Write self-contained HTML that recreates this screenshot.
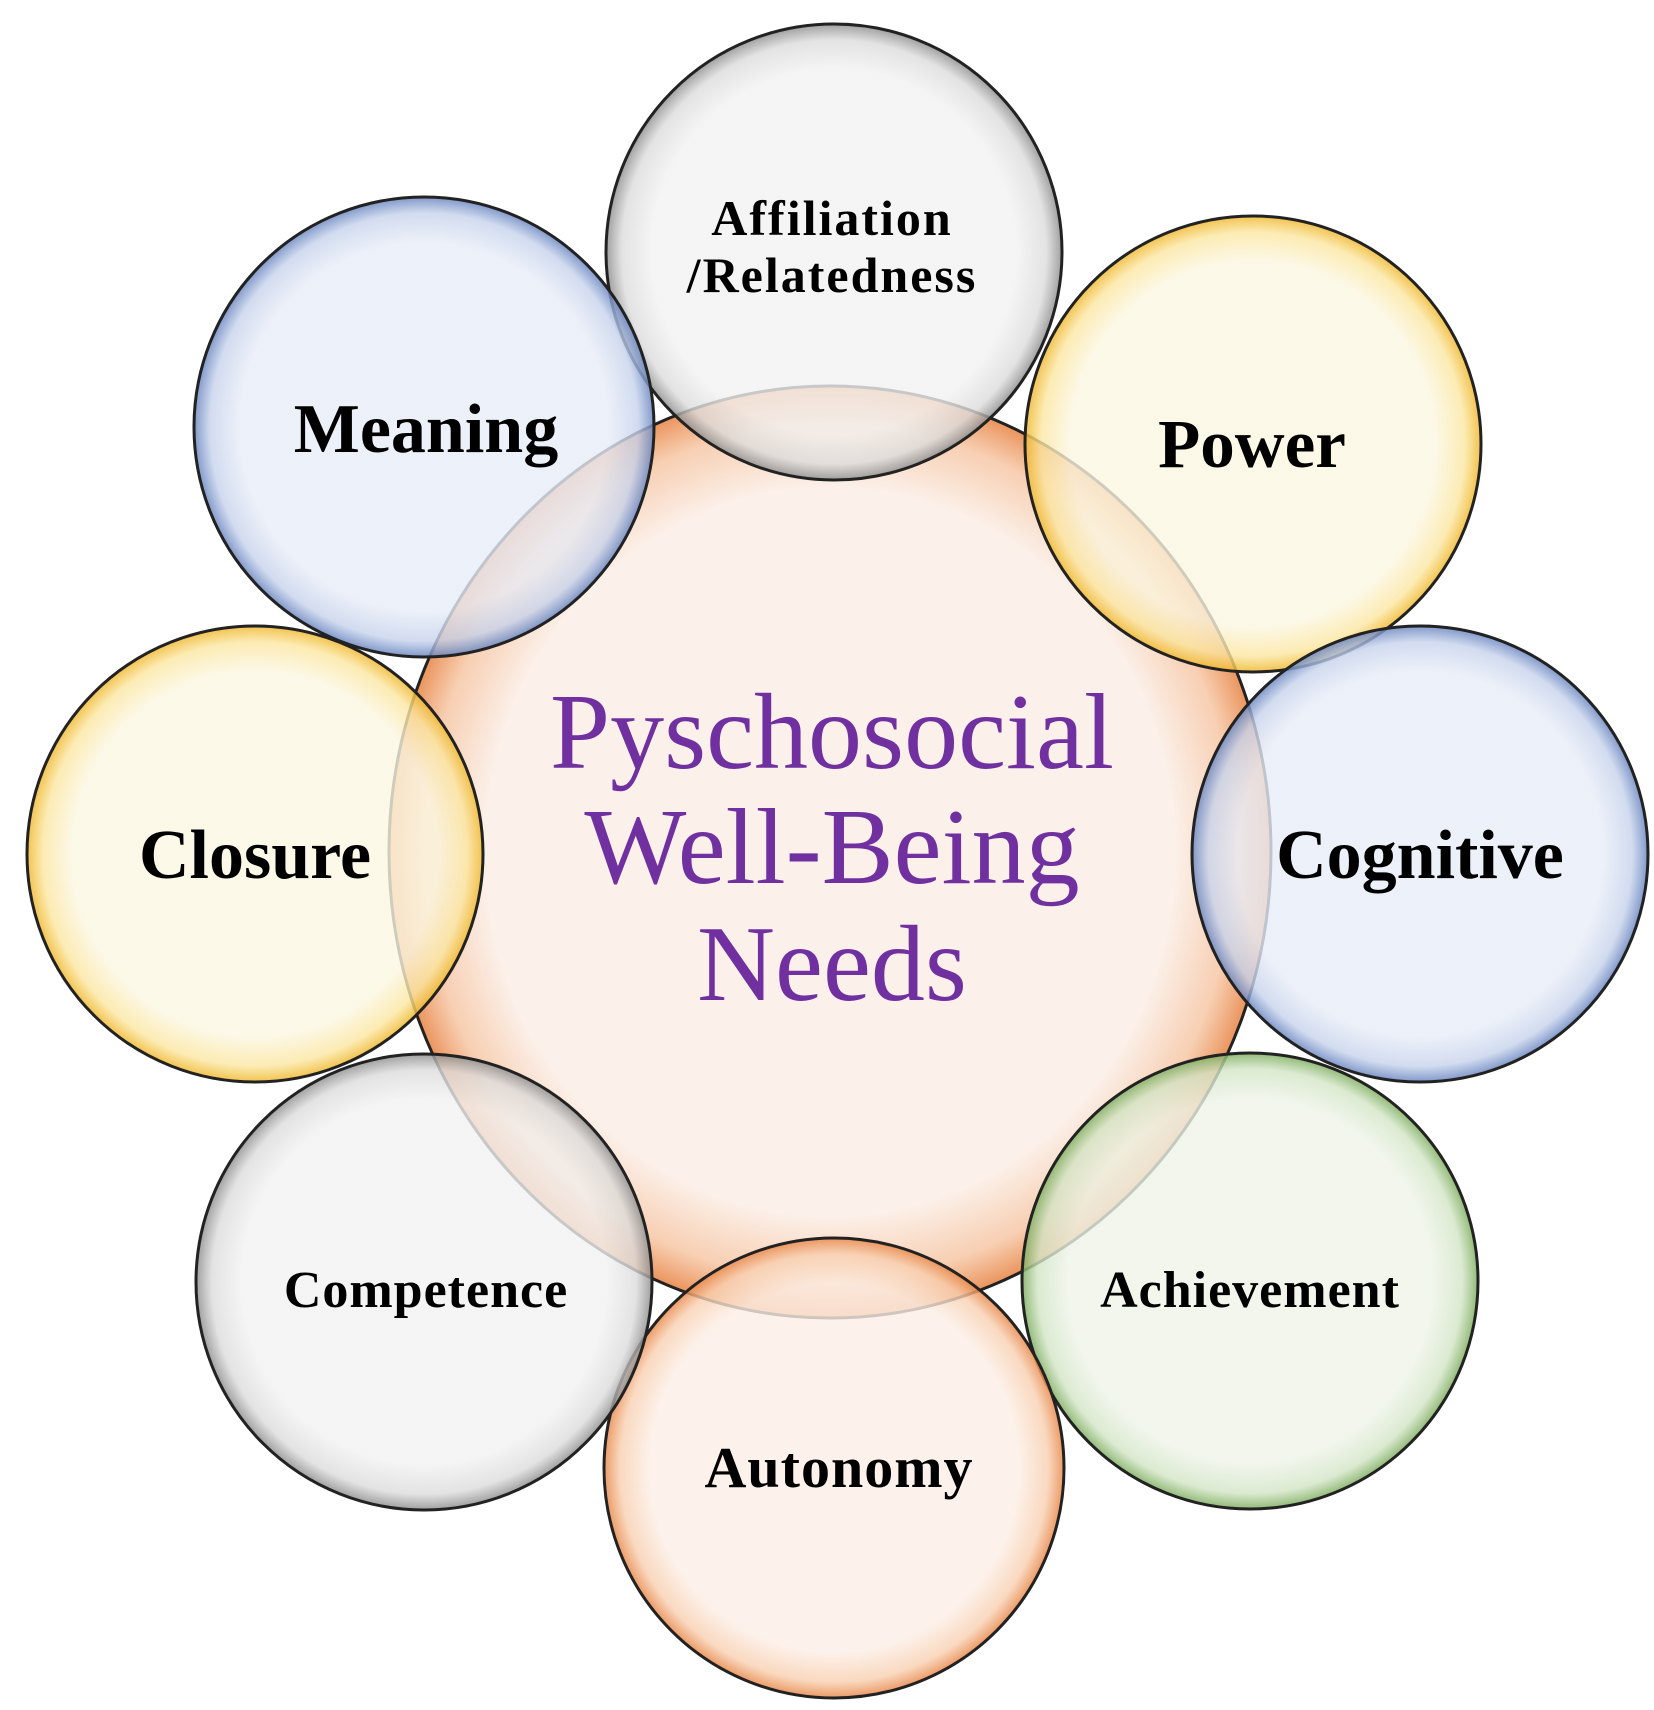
<!DOCTYPE html>
<html><head><meta charset="utf-8"><style>
html,body{margin:0;padding:0;background:#fff;}
svg{display:block;}
text{font-family:"Liberation Serif",serif;}
.l{font-weight:bold;fill:#000;text-anchor:middle;}
</style></head><body>
<svg width="1654" height="1710" viewBox="0 0 1654 1710" xmlns="http://www.w3.org/2000/svg">
<defs>
<radialGradient id="go" cx="50%" cy="50%" r="50%"><stop offset="0.78" stop-color="#fbeee6" stop-opacity="0.85"/><stop offset="0.92" stop-color="#f6c6a4" stop-opacity="0.85"/><stop offset="1" stop-color="#e8884a" stop-opacity="0.9"/></radialGradient>
<radialGradient id="gg" cx="50%" cy="50%" r="50%"><stop offset="0.8" stop-color="#f2f2f2" stop-opacity="0.8"/><stop offset="0.93" stop-color="#dcdcdc" stop-opacity="0.8"/><stop offset="1" stop-color="#8f8f8f" stop-opacity="0.85"/></radialGradient>
<radialGradient id="gy" cx="50%" cy="50%" r="50%"><stop offset="0.8" stop-color="#fbf7e2" stop-opacity="0.8"/><stop offset="0.93" stop-color="#fbe6a0" stop-opacity="0.8"/><stop offset="1" stop-color="#f0b830" stop-opacity="0.85"/></radialGradient>
<radialGradient id="gb" cx="50%" cy="50%" r="50%"><stop offset="0.8" stop-color="#e8edf7" stop-opacity="0.8"/><stop offset="0.93" stop-color="#c7d3ec" stop-opacity="0.8"/><stop offset="1" stop-color="#6a86c0" stop-opacity="0.85"/></radialGradient>
<radialGradient id="gn" cx="50%" cy="50%" r="50%"><stop offset="0.8" stop-color="#eef4e8" stop-opacity="0.8"/><stop offset="0.93" stop-color="#d3e5c6" stop-opacity="0.8"/><stop offset="1" stop-color="#7eae60" stop-opacity="0.85"/></radialGradient>
<radialGradient id="ga" cx="50%" cy="50%" r="50%"><stop offset="0.8" stop-color="#fcefe6" stop-opacity="0.8"/><stop offset="0.93" stop-color="#f8cfb0" stop-opacity="0.8"/><stop offset="1" stop-color="#e8884a" stop-opacity="0.85"/></radialGradient>
</defs>
<g stroke="#222" stroke-width="3">
<ellipse cx="830" cy="852" rx="441" ry="466" fill="url(#go)"/>
<circle cx="834" cy="252" r="228" fill="url(#gg)"/>
<circle cx="1253" cy="444" r="228" fill="url(#gy)"/>
<circle cx="1420" cy="854" r="228" fill="url(#gb)"/>
<circle cx="1250" cy="1281" r="228" fill="url(#gn)"/>
<circle cx="834" cy="1468" r="230" fill="url(#ga)"/>
<circle cx="424" cy="1282" r="228" fill="url(#gg)"/>
<circle cx="255" cy="854" r="228" fill="url(#gy)"/>
<circle cx="424" cy="427" r="230" fill="url(#gb)"/>
</g>
<text class="l" x="832" y="235" font-size="50" letter-spacing="2">Affiliation</text>
<text class="l" x="832" y="292" font-size="50" letter-spacing="2">/Relatedness</text>
<text class="l" x="426" y="452" font-size="70">Meaning</text>
<text class="l" x="1252" y="467" font-size="69">Power</text>
<text class="l" x="255" y="878" font-size="70">Closure</text>
<text class="l" x="1420" y="878" font-size="70">Cognitive</text>
<text class="l" x="426" y="1307" font-size="52" letter-spacing="1">Competence</text>
<text class="l" x="1250" y="1307" font-size="52" letter-spacing="1">Achievement</text>
<text class="l" x="839" y="1487" font-size="58" letter-spacing="1">Autonomy</text>
<g fill="#7030a0" text-anchor="middle" font-size="108">
<text x="832" y="768">Pyschosocial</text>
<text x="832" y="883">Well-Being</text>
<text x="832" y="1000">Needs</text>
</g>
</svg>
</body></html>
